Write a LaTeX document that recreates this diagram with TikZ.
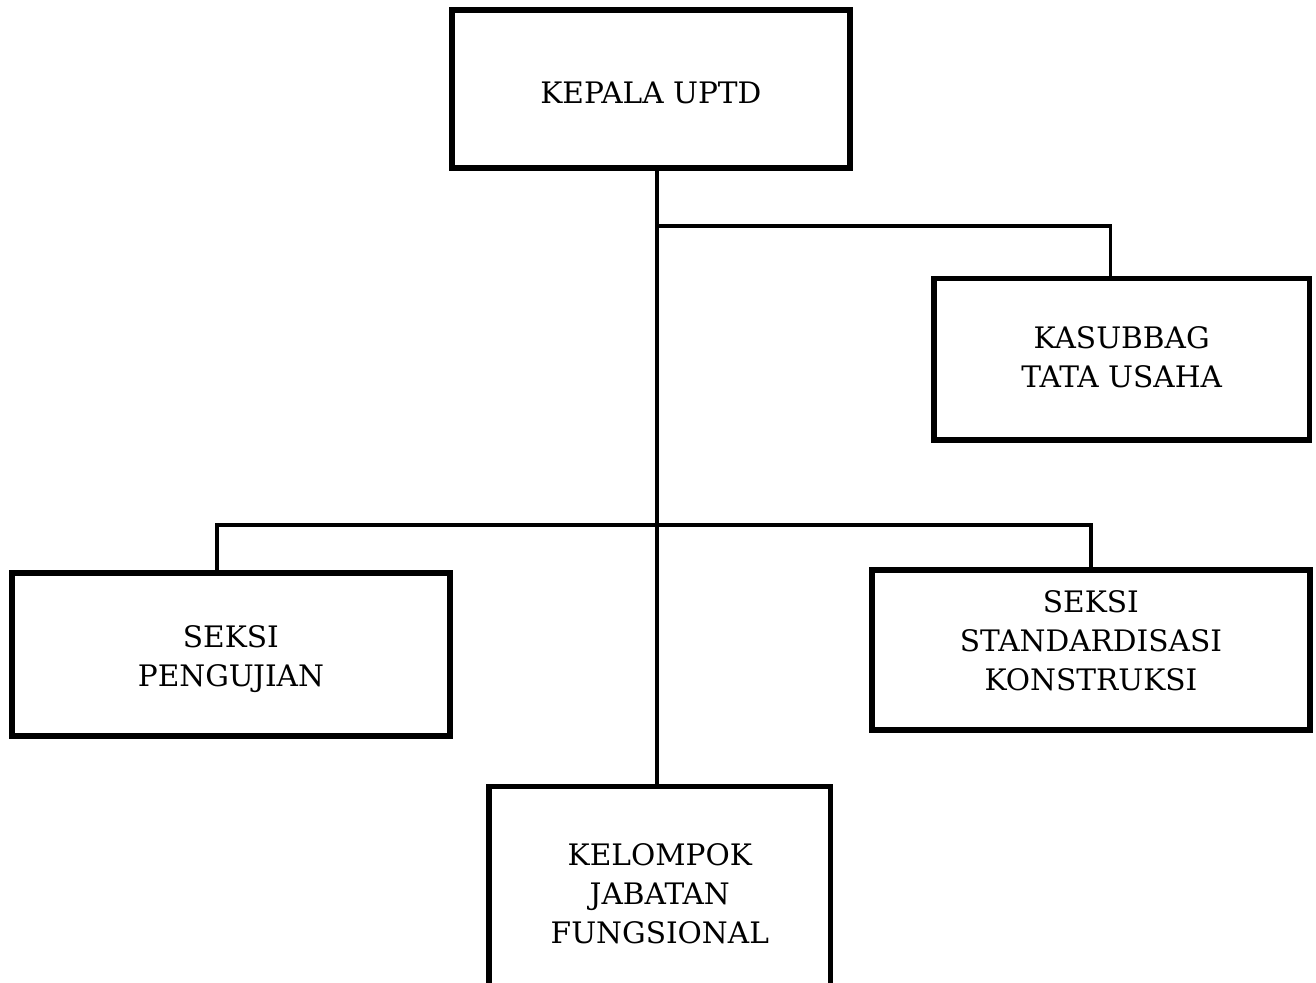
\documentclass[tikz,border=0pt]{standalone}
\usepackage{fontspec}
\setmainfont{DejaVu Serif}
\begin{document}
\begin{tikzpicture}[x=0.5pt, y=-0.5pt,
  unit/.style={draw, line width=2.8pt, fill=white, inner sep=0pt},
  caption/.style={align=center, font=\fontsize{14.8}{19.6}\selectfont},
  link/.style={line width=1.8pt}]
\useasboundingbox (0,0) rectangle (1316,982);
% units
\node[unit, minimum width=199.2pt, minimum height=79.2pt,
  label={[caption, yshift=-2.2pt]center:KEPALA UPTD}] (kepala) at (650.9,88.9) {};
\node[unit, minimum width=187.6pt, minimum height=80.8pt,
  label={[caption, yshift=1.1pt]center:KASUBBAG\\TATA USAHA}] (kasubbag) at (1121.7,359.2) {};
\node[unit, minimum width=218.8pt, minimum height=81.7pt,
  label={[caption, yshift=-2.5pt]center:SEKSI\\PENGUJIAN}] (pengujian) at (230.9,654.4) {};
\node[unit, minimum width=218.8pt, minimum height=80.2pt,
  label={[caption, yshift=4.5pt]center:SEKSI\\STANDARDISASI\\KONSTRUKSI}] (standar) at (1090.9,649.9) {};
\node[unit, minimum width=170.7pt, minimum height=107pt,
  label={[caption]center:KELOMPOK\\JABATAN\\FUNGSIONAL}] (kelompok) at (659.8,893.5) {};
% junctions on the trunk
\coordinate (jTU) at (657,226);
\coordinate (jSeksi) at (657,525);
% connectors
\draw[link] (kepala.south -| jTU) -- (kelompok.north -| jTU);
\draw[link] (jTU) -| ([xshift=-5.6pt]kasubbag.north);
\draw[link] ([xshift=-7pt]pengujian.north) |- (jSeksi) -| (standar.north);
\end{tikzpicture}
\end{document}
